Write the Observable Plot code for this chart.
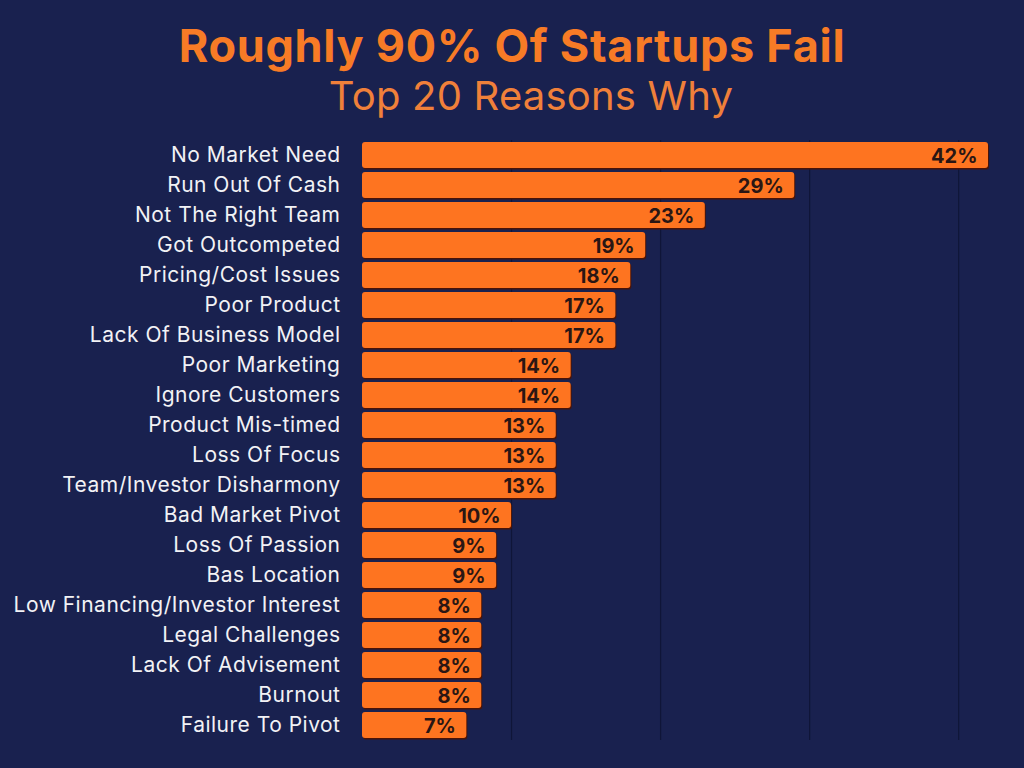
<!DOCTYPE html>
<html>
<head>
<meta charset="utf-8">
<script src="https://cdn.jsdelivr.net/npm/d3@7"></script>
<script src="https://cdn.jsdelivr.net/npm/@observablehq/plot@0.6"></script>
<style>
  html, body { margin: 0; padding: 0; background: #19214f; }
  body { width: 1024px; height: 768px; overflow: hidden; font-family: Inter, "Noto Sans", sans-serif; }
  #head { height: 130px; text-align: center; color: #f77b26; }
  #title { font-weight: 700; font-size: 45px; line-height: 45px; padding-top: 23px; letter-spacing: 0.7px; }
  #subtitle { font-weight: 400; font-size: 40px; line-height: 40px; padding-top: 8px; padding-left: 38px; color: #f0803a; letter-spacing: 0.2px; }
  #chart svg { display: block; }
  #chart g[aria-label="y-axis tick label"] text { letter-spacing: 0.5px; }
</style>
</head>
<body>
<div id="head">
  <div id="title">Roughly 90% Of Startups Fail</div>
  <div id="subtitle">Top 20 Reasons Why</div>
</div>
<div id="chart"></div>
<script>
const reasons = [
  "No Market Need", "Run Out Of Cash", "Not The Right Team", "Got Outcompeted",
  "Pricing/Cost Issues", "Poor Product", "Lack Of Business Model", "Poor Marketing",
  "Ignore Customers", "Product Mis-timed", "Loss Of Focus", "Team/Investor Disharmony",
  "Bad Market Pivot", "Loss Of Passion", "Bas Location", "Low Financing/Investor Interest",
  "Legal Challenges", "Lack Of Advisement", "Burnout", "Failure To Pivot"
];
const percents = [42, 29, 23, 19, 18, 17, 17, 14, 14, 13, 13, 13, 10, 9, 9, 8, 8, 8, 8, 7];
const gridTicks = [10, 20, 30, 40];

const data = reasons.map((r, i) => ({reason: r, pct: percents[i]}));

const chart = Plot.plot({
  width: 1024,
  height: 638,
  marginLeft: 362,
  marginRight: 36,
  marginTop: 10,
  marginBottom: 28,
  style: {background: "#19214f", fontFamily: "Inter, 'Noto Sans', sans-serif"},
  x: {domain: [0, 42], axis: null},
  y: {domain: reasons, padding: 0, axis: null},
  marks: [
    Plot.ruleX(gridTicks, {stroke: "#0f1538", strokeWidth: 1.2}),
    Plot.barX(data, {x: "pct", y: "reason", fill: "#4a1408", rx: 3, dx: 1, dy: 1.5, insetTop: 2, insetBottom: 2}),
    Plot.barX(data, {x: "pct", y: "reason", fill: "#fe7420", rx: 3, insetTop: 2, insetBottom: 2}),
    Plot.text(data, {x: "pct", y: "reason", text: d => d.pct + "%", textAnchor: "end", dx: -11, dy: 1,
      fill: "#2a1614", fontSize: 20, fontWeight: 700}),
    Plot.axisY({tickSize: 0, tickPadding: 22, fontSize: 21, color: "#f2f2f5", fill: "#f2f2f5", label: null})
  ]
});
document.getElementById("chart").appendChild(chart);
</script>
</body>
</html>
